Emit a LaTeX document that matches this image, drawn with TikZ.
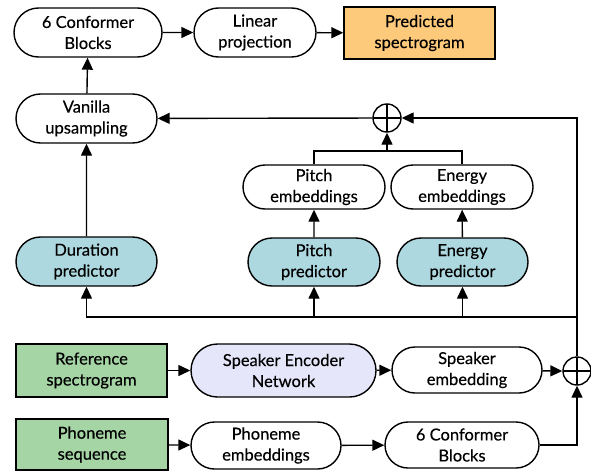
\documentclass[tikz,border=0pt]{standalone}
\usepackage{fontspec}
\setmainfont{Lato}[FakeBold=0.35]
\usetikzlibrary{arrows.meta,shapes.misc,calc}
\definecolor{bluef}{HTML}{ADD8E0}
\definecolor{greenf}{HTML}{A5D5A5}
\definecolor{orangef}{HTML}{FDC97B}
\definecolor{lavf}{HTML}{E6E6FA}
\tikzset{
  box/.style={rounded rectangle, draw, line width=1.4pt, align=center, inner sep=0pt,
    font=\fontsize{16.5}{21}\selectfont},
  sq/.style={rectangle, draw, line width=1.4pt, align=center, inner sep=0pt,
    font=\fontsize{16.5}{21}\selectfont},
  oplus/.style={circle, draw, line width=1.4pt, minimum size=28pt, inner sep=0pt,
    path picture={\draw[line width=1.4pt] (path picture bounding box.north) -- (path picture bounding box.south)
      (path picture bounding box.west) -- (path picture bounding box.east);}},
  arr/.style={line width=1.4pt, -{Triangle[length=12pt,width=11pt]}},
  ln/.style={line width=1.4pt},
}
\begin{document}
\begin{tikzpicture}[x=1pt,y=-1pt]
\useasboundingbox (0,0) rectangle (591,471);
% top row
\node[box, minimum width=148pt, minimum height=49pt] (conf1) at (88,32.5) {6 Conformer\\Blocks};
\node[box, minimum width=122pt, minimum height=49pt] (lin) at (255,32.5) {Linear\\projection};
\node[sq, fill=orangef, minimum width=151pt, minimum height=52pt] (pred) at (419.5,33) {Predicted\\spectrogram};
% upsampling
\node[box, minimum width=141pt, minimum height=49pt] (van) at (86.5,118.5) {Vanilla\\upsampling};
\node[oplus] (sumt) at (387,118) {};
% embeddings
\node[box, minimum width=142pt, minimum height=44pt] (pemb) at (314,187) {Pitch\\embeddings};
\node[box, minimum width=142pt, minimum height=44pt] (eemb) at (462,187) {Energy\\embeddings};
% predictors
\node[box, fill=bluef, minimum width=141pt, minimum height=49pt] (dur) at (86.5,261.5) {Duration\\predictor};
\node[box, fill=bluef, minimum width=132pt, minimum height=48pt] (ppred) at (314,262) {Pitch\\predictor};
\node[box, fill=bluef, minimum width=131pt, minimum height=48pt] (epred) at (462.5,262) {Energy\\predictor};
% speaker row
\node[sq, fill=greenf, minimum width=151pt, minimum height=53pt] (ref) at (91.5,370.5) {Reference\\spectrogram};
\node[box, fill=lavf, minimum width=185pt, minimum height=53pt] (spk) at (283.5,370.5) {Speaker Encoder\\Network};
\node[box, minimum width=150pt, minimum height=46pt] (semb) at (467,370) {Speaker\\embedding};
\node[oplus] (sumb) at (577,371) {};
% phoneme row
\node[sq, fill=greenf, minimum width=152pt, minimum height=51pt] (phs) at (92,444.5) {Phoneme\\sequence};
\node[box, minimum width=150pt, minimum height=47pt] (phe) at (266,445.5) {Phoneme\\embeddings};
\node[box, minimum width=154pt, minimum height=46pt] (conf2) at (462,445) {6 Conformer\\Blocks};
\coordinate (bus) at (577,317);
\coordinate (join) at (387,151);
\coordinate (tr) at (577,118);
% connectors
\draw[arr] (conf1) -- (lin);
\draw[arr] (lin) -- (pred);
\draw[arr] (van) -- (conf1);
\draw[arr] (dur) -- (van);
\draw[arr] (sumt) -- (van);
\draw[arr] (sumb.north) -- (tr) -- (sumt.east);
\draw[arr] (bus) -| (dur.south);
\draw[arr] (ppred.south |- bus) -- (ppred.south);
\draw[arr] (epred.south |- bus) -- (epred.south);
\draw[arr] (ppred) -- (pemb);
\draw[arr] (epred) -- (eemb);
\draw[ln] (pemb.north) |- (join) -| (eemb.north);
\draw[arr] (join) -- (sumt.south);
\draw[arr] (ref) -- (spk);
\draw[arr] (spk) -- (semb);
\draw[arr] (semb) -- (sumb.west);
\draw[arr] (phs) -- (phe);
\draw[arr] (phe) -- (conf2);
\draw[arr] (conf2.east) -| (sumb.south);
\end{tikzpicture}
\end{document}
